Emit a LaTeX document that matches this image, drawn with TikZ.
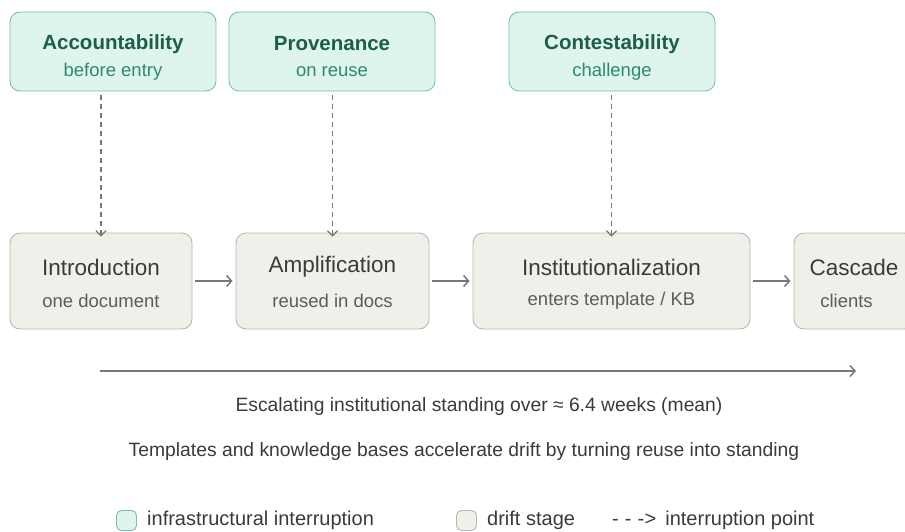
\documentclass[tikz,border=0pt]{standalone}
\usepackage{fontspec}
\setmainfont{Liberation Sans}
\usetikzlibrary{arrows.meta}
\definecolor{gfill}{HTML}{DDF5EC}
\definecolor{gline}{HTML}{7DBFA6}
\definecolor{gtitle}{HTML}{1D5E45}
\definecolor{gsub}{HTML}{2E8A68}
\definecolor{sfill}{HTML}{F0EFEA}
\definecolor{sline}{HTML}{B8B7B1}
\definecolor{stitle}{HTML}{3B3B3B}
\definecolor{ssub}{HTML}{5C5C5C}
\definecolor{arr}{HTML}{777777}
\definecolor{txt}{HTML}{3A3A3A}
\tikzset{
  gbox/.style={draw=gline, fill=gfill, line width=0.9pt, rounded corners=10pt, minimum width=206pt, minimum height=79pt, inner sep=0pt},
  sbox/.style={draw=sline, fill=sfill, line width=0.9pt, rounded corners=10pt, minimum height=96pt, inner sep=0pt},
  gt/.style={text=gtitle, font=\fontsize{20.5}{20.5}\selectfont\bfseries, inner sep=0pt},
  gs/.style={text=gsub, font=\fontsize{18.5}{18.5}\selectfont, inner sep=0pt},
  st/.style={text=stitle, font=\fontsize{22.5}{22.5}\selectfont, inner sep=0pt},
  ss/.style={text=ssub, font=\fontsize{18.5}{18.5}\selectfont, inner sep=0pt},
  dasharrow/.style={draw=arr, line width=1.6pt, dash pattern=on 5pt off 4pt, -{Straight Barb[length=5pt,width=10pt,line width=1.2pt]}},
  flow/.style={draw=arr, line width=1.5pt, -{Straight Barb[length=5pt,width=11pt]}},
  lbl/.style={text=txt, inner sep=0pt},
  legbox/.style={line width=0.9pt, rounded corners=5pt, minimum width=20pt, minimum height=20pt, inner sep=0pt},
}
\begin{document}
\begin{tikzpicture}[x=1pt,y=-1pt]
\useasboundingbox (0,0) rectangle (905,531);
\clip (0,0) rectangle (905,531);
% top interruption boxes
\node[gbox] (acc) at (113,51.5) {};
\node[gbox] (prov) at (332,51.5) {};
\node[gbox] (cont) at (612,51.5) {};
\node[gt] (acct) at (113,44) {Accountability};
\node[gs] (accs) at (113,72) {before entry};
\node[gt] (provt) at (332,44) {Provenance};
\node[gs] (provs) at (332,72) {on reuse};
\node[gt] (contt) at (612,44) {Contestability};
\node[gs] (conts) at (612,72) {challenge};
% drift stages
\node[sbox, minimum width=182pt] (intro) at (101,281) {};
\node[sbox, minimum width=193pt] (amp) at (332.5,281) {};
\node[sbox, minimum width=277pt] (inst) at (611.5,281) {};
\node[sbox, minimum width=120pt] (casc) at (854,281) {};
\node[st] (introt) at (101,267) {Introduction};
\node[ss] (intros) at (101,301) {one document};
\node[st] (ampt) at (332.5,267) {Amplification};
\node[ss] (amps) at (332.5,301) {reused in docs};
\node[st] (instt) at (611.5,267) {Institutionalization};
\node[ss] (insts) at (611.5,301) {enters template / KB};
\node[st] (casct) at (854,267) {Cascade};
\node[ss] (cascs) at (846.5,301) {clients};
% dashed interruption arrows
\draw[dasharrow] (intro.north |- acc.south) ++(0,4) -- ([yshift=-4pt]intro.north);
\draw[dasharrow] (amp.north |- prov.south) ++(0,4) -- ([yshift=-4pt]amp.north);
\draw[dasharrow] (inst.north |- cont.south) ++(0,4) -- ([yshift=-4pt]inst.north);
% flow arrows
\draw[flow, shorten <=3pt, shorten >=3pt] (intro.east) -- (amp.west);
\draw[flow, shorten <=3pt, shorten >=3pt] (amp.east) -- (inst.west);
\draw[flow, shorten <=3pt, shorten >=3pt] (inst.east) -- (casc.west);
% timeline
\coordinate (t0) at (100,371);
\coordinate (t1) at (856,371);
\draw[flow] (t0) -- (t1);
\node[lbl, font=\fontsize{19.3}{19.3}\selectfont] (esc) at (479,407) {Escalating institutional standing over ≈ 6.4 weeks (mean)};
\node[lbl, font=\fontsize{19.3}{19.3}\selectfont] (tmpl) at (464,452) {Templates and knowledge bases accelerate drift by turning reuse into standing};
% legend
\node[legbox, draw=gline, fill=gfill] (lg1) at (126.5,520.5) {};
\node[lbl, anchor=west, font=\fontsize{20}{20}\selectfont] (lg1t) at (147,520) {infrastructural interruption};
\node[legbox, draw=sline, fill=sfill] (lg2) at (466.5,520.5) {};
\node[lbl, anchor=west, font=\fontsize{20}{20}\selectfont] (lg2t) at (487,520) {drift stage};
\node[lbl, anchor=west, font=\fontsize{20}{20}\selectfont] (lg3t) at (612,520) {-\hspace{6pt}-\hspace{6pt}-\hspace{0.5pt}>\hspace{9pt}interruption point};
\end{tikzpicture}
\end{document}
